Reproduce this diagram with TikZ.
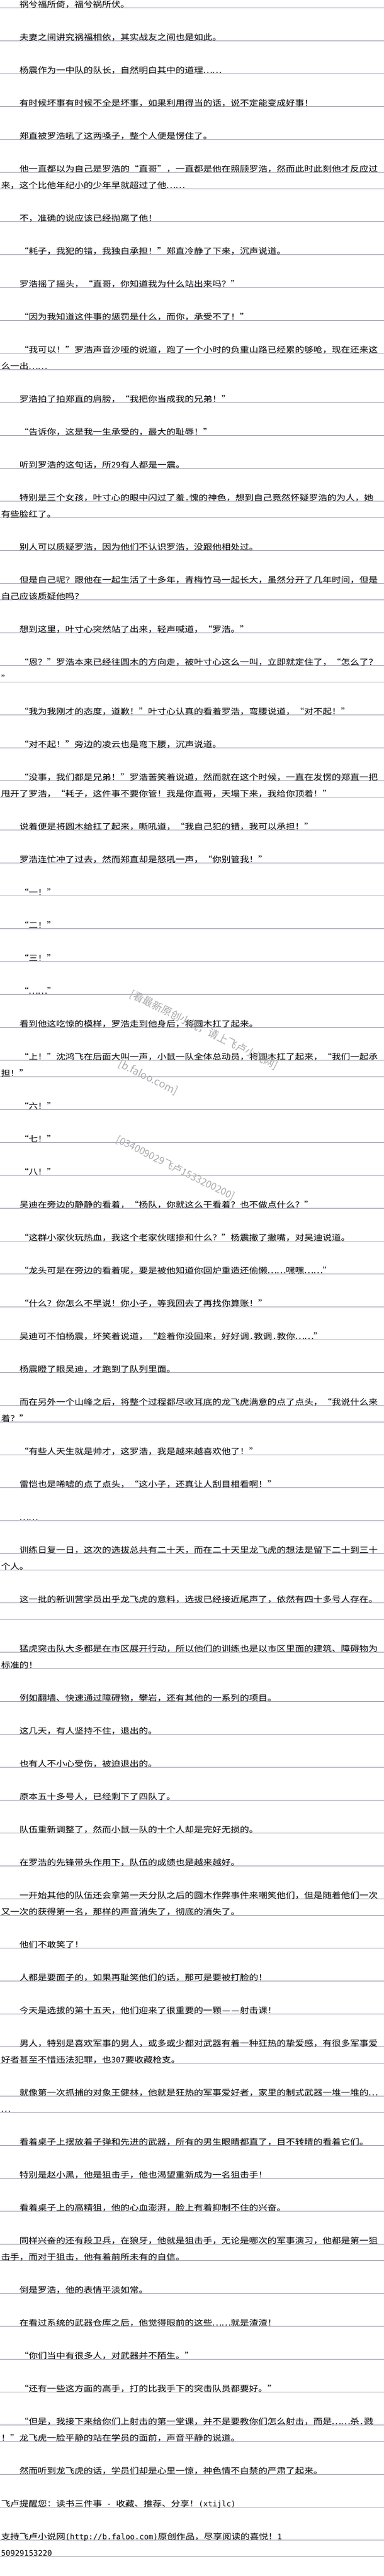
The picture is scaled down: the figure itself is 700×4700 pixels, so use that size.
\documentclass[tikz,border=0pt]{standalone}
\usepackage{fontspec}
\newfontfamily\cjk[FakeStretch=1.155]{Noto Sans CJK SC}
\newfontfamily\halffont{DejaVu Sans Mono}
\newfontfamily\wmfont{Noto Sans CJK SC}
\definecolor{ulcol}{RGB}{150,148,170}
\definecolor{wmcol}{RGB}{170,170,170}
\newcommand\hw[1]{{\halffont\fontsize{14}{14}\selectfont #1}}
\newcommand\LQ{\makebox[16.75pt][r]{“}}
\newcommand\RQ{\makebox[16.75pt][l]{”}}
\newcommand\EL{\makebox[16.75pt]{…}}
\newcommand\DS{\makebox[16.75pt]{—}}
\tikzset{
  txt/.style={anchor=base west, inner sep=0pt, outer sep=0pt, font=\cjk\fontsize{14.5}{14.5}\selectfont, text=black},
  uline/.style={draw=ulcol, line width=0.9pt},
  wm/.style={text=wmcol, inner sep=0pt, font=\wmfont\fontsize{19}{19}\selectfont, rotate=-26.5}
}
\newcommand\tline[3]{%
  \draw[uline] (0,{14.3+30*#1}) -- (700,{14.3+30*#1});
  \node[txt] (t#1) at (#2,{13.3+30*#1}) {#3};}
\newcommand\eline[1]{\draw[uline] (0,{14.3+30*#1}) -- (700,{14.3+30*#1});}
\begin{document}
\begin{tikzpicture}[x=1pt,y=-1pt]
\fill[white] (0,0) rectangle (700,4700);
\useasboundingbox (0,0) rectangle (700,4700);
\def\I{35.5}
\def\N{2}
\tline{0}{\I}{祸兮福所倚，福兮祸所伏。}
\tline{2}{\I}{夫妻之间讲究祸福相依，其实战友之间也是如此。}
\tline{4}{\I}{杨震作为一中队的队长，自然明白其中的道理\EL\EL}
\tline{6}{\I}{有时候坏事有时候不全是坏事，如果利用得当的话，说不定能变成好事！}
\tline{8}{\I}{郑直被罗浩吼了这两嗓子，整个人便是愣住了。}
\tline{10}{\I}{他一直都以为自己是罗浩的\LQ 直哥\RQ ，一直都是他在照顾罗浩，然而此时此刻他才反应过}
\tline{11}{\N}{来，这个比他年纪小的少年早就超过了他\EL\EL}
\tline{13}{\I}{不，准确的说应该已经抛离了他！}
\tline{15}{\I}{\LQ 耗子，我犯的错，我独自承担！\RQ 郑直冷静了下来，沉声说道。}
\tline{17}{\I}{罗浩摇了摇头，\LQ 直哥，你知道我为什么站出来吗？\RQ}
\tline{19}{\I}{\LQ 因为我知道这件事的惩罚是什么，而你，承受不了！\RQ}
\tline{21}{\I}{\LQ 我可以！\RQ 罗浩声音沙哑的说道，跑了一个小时的负重山路已经累的够呛，现在还来这}
\tline{22}{\N}{么一出\EL\EL}
\tline{24}{\I}{罗浩拍了拍郑直的肩膀，\LQ 我把你当成我的兄弟！\RQ}
\tline{26}{\I}{\LQ 告诉你，这是我一生承受的，最大的耻辱！\RQ}
\tline{28}{\I}{听到罗浩的这句话，所\hw{29}有人都是一震。}
\tline{30}{\I}{特别是三个女孩，叶寸心的眼中闪过了羞\hw{.}愧的神色，想到自己竟然怀疑罗浩的为人，她}
\tline{31}{\N}{有些脸红了。}
\tline{33}{\I}{别人可以质疑罗浩，因为他们不认识罗浩，没跟他相处过。}
\tline{35}{\I}{但是自己呢？跟他在一起生活了十多年，青梅竹马一起长大，虽然分开了几年时间，但是}
\tline{36}{\N}{自己应该质疑他吗？}
\tline{38}{\I}{想到这里，叶寸心突然站了出来，轻声喊道，\LQ 罗浩。\RQ}
\tline{40}{\I}{\LQ 恩？\RQ 罗浩本来已经往圆木的方向走，被叶寸心这么一叫，立即就定住了，\LQ 怎么了？}
\tline{41}{\N}{\RQ}
\tline{43}{\I}{\LQ 我为我刚才的态度，道歉！\RQ 叶寸心认真的看着罗浩，弯腰说道，\LQ 对不起！\RQ}
\tline{45}{\I}{\LQ 对不起！\RQ 旁边的凌云也是弯下腰，沉声说道。}
\tline{47}{\I}{\LQ 没事，我们都是兄弟！\RQ 罗浩苦笑着说道，然而就在这个时候，一直在发愣的郑直一把}
\tline{48}{\N}{甩开了罗浩，\LQ 耗子，这件事不要你管！我是你直哥，天塌下来，我给你顶着！\RQ}
\tline{50}{\I}{说着便是将圆木给扛了起来，嘶吼道，\LQ 我自己犯的错，我可以承担！\RQ}
\tline{52}{\I}{罗浩连忙冲了过去，然而郑直却是怒吼一声，\LQ 你别管我！\RQ}
\tline{54}{\I}{\LQ 一！\RQ}
\tline{56}{\I}{\LQ 二！\RQ}
\tline{58}{\I}{\LQ 三！\RQ}
\tline{60}{\I}{\LQ\EL\EL\RQ}
\tline{62}{\I}{看到他这吃惊的模样，罗浩走到他身后，将圆木扛了起来。}
\tline{64}{\I}{\LQ 上！\RQ 沈鸿飞在后面大叫一声，小鼠一队全体总动员，将圆木扛了起来，\LQ 我们一起承}
\tline{65}{\N}{担！\RQ}
\tline{67}{\I}{\LQ 六！\RQ}
\tline{69}{\I}{\LQ 七！\RQ}
\tline{71}{\I}{\LQ 八！\RQ}
\tline{73}{\I}{吴迪在旁边的静静的看着，\LQ 杨队，你就这么干看着？也不做点什么？\RQ}
\tline{75}{\I}{\LQ 这群小家伙玩热血，我这个老家伙瞎掺和什么？\RQ 杨震撇了撇嘴，对吴迪说道。}
\tline{77}{\I}{\LQ 龙头可是在旁边的看着呢，要是被他知道你回炉重造还偷懒\EL\EL 嘿嘿\EL\EL\RQ}
\tline{79}{\I}{\LQ 什么？你怎么不早说！你小子，等我回去了再找你算账！\RQ}
\tline{81}{\I}{吴迪可不怕杨震，坏笑着说道，\LQ 趁着你没回来，好好调\hw{.}教调\hw{.}教你\EL\EL\RQ}
\tline{83}{\I}{杨震瞪了眼吴迪，才跑到了队列里面。}
\tline{85}{\I}{而在另外一个山峰之后，将整个过程都尽收耳底的龙飞虎满意的点了点头，\LQ 我说什么来}
\tline{86}{\N}{着？\RQ}
\tline{88}{\I}{\LQ 有些人天生就是帅才，这罗浩，我是越来越喜欢他了！\RQ}
\tline{90}{\I}{雷恺也是唏嘘的点了点头，\LQ 这小子，还真让人刮目相看啊！\RQ}
\tline{92}{\I}{\EL\EL}
\tline{94}{\I}{训练日复一日，这次的选拔总共有二十天，而在二十天里龙飞虎的想法是留下二十到三十}
\tline{95}{\N}{个人。}
\tline{97}{\I}{这一批的新训营学员出乎龙飞虎的意料，选拔已经接近尾声了，依然有四十多号人存在。}
\eline{98}
\tline{100}{\I}{猛虎突击队大多都是在市区展开行动，所以他们的训练也是以市区里面的建筑、障碍物为}
\tline{101}{\N}{标准的！}
\tline{103}{\I}{例如翻墙、快速通过障碍物，攀岩，还有其他的一系列的项目。}
\tline{105}{\I}{这几天，有人坚持不住，退出的。}
\tline{107}{\I}{也有人不小心受伤，被迫退出的。}
\tline{109}{\I}{原本五十多号人，已经剩下了四队了。}
\tline{111}{\I}{队伍重新调整了，然而小鼠一队的十个人却是完好无损的。}
\tline{113}{\I}{在罗浩的先锋带头作用下，队伍的成绩也是越来越好。}
\tline{115}{\I}{一开始其他的队伍还会拿第一天分队之后的圆木作弊事件来嘲笑他们，但是随着他们一次}
\tline{116}{\N}{又一次的获得第一名，那样的声音消失了，彻底的消失了。}
\tline{118}{\I}{他们不敢笑了！}
\tline{120}{\I}{人都是要面子的，如果再耻笑他们的话，那可是要被打脸的！}
\tline{122}{\I}{今天是选拔的第十五天，他们迎来了很重要的一颗\DS\DS 射击课！}
\tline{124}{\I}{男人，特别是喜欢军事的男人，或多或少都对武器有着一种狂热的挚爱感，有很多军事爱}
\tline{125}{\N}{好者甚至不惜违法犯罪，也\hw{307}要收藏枪支。}
\tline{127}{\I}{就像第一次抓捕的对象王健林，他就是狂热的军事爱好者，家里的制式武器一堆一堆的\EL}
\tline{128}{\N}{\EL}
\tline{130}{\I}{看着桌子上摆放着子弹和先进的武器，所有的男生眼睛都直了，目不转睛的看着它们。}
\tline{132}{\I}{特别是赵小黑，他是狙击手，他也渴望重新成为一名狙击手！}
\tline{134}{\I}{看着桌子上的高精狙，他的心血澎湃，脸上有着抑制不住的兴奋。}
\tline{136}{\I}{同样兴奋的还有段卫兵，在狼牙，他就是狙击手，无论是哪次的军事演习，他都是第一狙}
\tline{137}{\N}{击手，而对于狙击，他有着前所未有的自信。}
\tline{139}{\I}{倒是罗浩，他的表情平淡如常。}
\tline{141}{\I}{在看过系统的武器仓库之后，他觉得眼前的这些\EL\EL 就是渣渣！}
\tline{143}{\I}{\LQ 你们当中有很多人，对武器并不陌生。\RQ}
\tline{145}{\I}{\LQ 还有一些这方面的高手，打的比我手下的突击队员都要好。\RQ}
\tline{147}{\I}{\LQ 但是，我接下来给你们上射击的第一堂课，并不是要教你们怎么射击，而是\EL\EL 杀\hw{.}戮}
\tline{148}{\N}{！\RQ 龙飞虎一脸平静的站在学员的面前，声音平静的说道。}
\tline{150}{\I}{然而听到龙飞虎的话，学员们却是心里一惊，神色情不自禁的严肃了起来。}
\tline{152}{\N}{飞卢提醒您：读书三件事\hw{ - }收藏、推荐、分享！\hw{(xtijlc)}}
\tline{154}{\N}{支持飞卢小说网\hw{(http://b.faloo.com)}原创作品，尽享阅读的喜悦！\hw{1}}
\tline{155}{\N}{\hw{50929153220}}
\node[wm] (w1) at (372,1879) {[看最新原创小说，请上飞卢小说网]};
\node[wm] (w2) at (270,1966) {[b.faloo.com]};
\node[wm, font=\wmfont\fontsize{18}{18}\selectfont] (w3) at (320,2131) {[034009029飞卢1533200200]};
\end{tikzpicture}
\end{document}
